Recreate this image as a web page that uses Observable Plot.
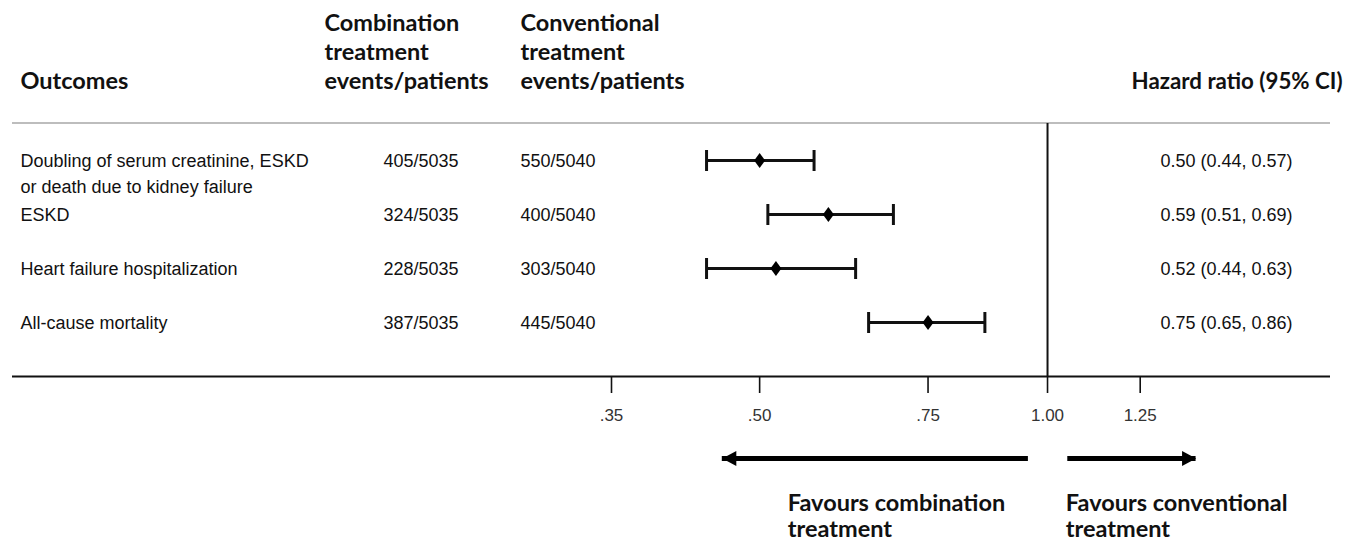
<!DOCTYPE html>
<html>
<head>
<meta charset="utf-8">
<script src="https://cdn.jsdelivr.net/npm/d3@7"></script>
<script src="https://cdn.jsdelivr.net/npm/@observablehq/plot@0.6"></script>
<style>
  html, body { margin: 0; padding: 0; background: #fff; }
</style>
</head>
<body>
<div id="chart"></div>
<script>
// ---------- data ----------
const outcomes = [
  "Doubling of serum creatinine, ESKD\nor death due to kidney failure",
  "ESKD",
  "Heart failure hospitalization",
  "All-cause mortality"
];
const combinationEvents = ["405/5035", "324/5035", "228/5035", "387/5035"];
const conventionalEvents = ["550/5040", "400/5040", "303/5040", "445/5040"];
const hazardRatio = [0.50, 0.59, 0.52, 0.75];
const ciLow = [0.44, 0.51, 0.44, 0.65];
const ciHigh = [0.57, 0.69, 0.63, 0.86];

const tickValues = [0.35, 0.50, 0.75, 1.00, 1.25];
const tickLabels = [".35", ".50", ".75", "1.00", "1.25"];

const headerLabels = ["Outcomes", "Combination\ntreatment\nevents/patients", "Conventional\ntreatment\nevents/patients"];
const hrHeader = "Hazard ratio (95% CI)";

const favourLabels = ["Favours combination\ntreatment", "Favours conventional\ntreatment"];
const arrowFrom = [0.955, 1.05];
const arrowTo = [0.457, 1.43];
const favourLabelAt = [0.535, 1.045];

// ---------- layout ----------
const W = 1353, H = 543;
const M = {top: 123, right: 23, bottom: 166, left: 12};
const rowRange = [159.5, 323];
const lastY = rowRange[1];
const headFont = "Lato, 'Open Sans', sans-serif";
const bodyFont = "'Liberation Sans', Arial, sans-serif";
const headSize = 23.5;
const bodySize = 18;

const rows = outcomes.map((o, i) => ({
  outcome: o,
  comb: combinationEvents[i],
  conv: conventionalEvents[i],
  hr: hazardRatio[i],
  lo: ciLow[i],
  hi: ciHigh[i],
  hrText: `${hazardRatio[i].toFixed(2)} (${ciLow[i].toFixed(2)}, ${ciHigh[i].toFixed(2)})`
}));

const favours = favourLabels.map((t, i) => ({text: t, from: arrowFrom[i], to: arrowTo[i], at: favourLabelAt[i]}));

// custom symbols
const capSymbol = {draw(ctx) { ctx.moveTo(0, -10.5); ctx.lineTo(0, 10.5); }};
const diamondSymbol = {draw(ctx) { ctx.moveTo(0, -7.5); ctx.lineTo(5.5, 0); ctx.lineTo(0, 7.5); ctx.lineTo(-5.5, 0); ctx.closePath(); }};
const headLeft = {draw(ctx) { ctx.moveTo(0, 0); ctx.lineTo(14, -7.5); ctx.lineTo(14, 7.5); ctx.closePath(); }};
const headRight = {draw(ctx) { ctx.moveTo(0, 0); ctx.lineTo(-14, -7.5); ctx.lineTo(-14, 7.5); ctx.closePath(); }};

const headerDx = [8, 312, 508];
const headerData = headerLabels.map((t, i) => ({text: t, dx: headerDx[i]}));
const headerBaseline = 88;

const arrowY = 459;
const favourBaseline = 511;
const favourLH = 27;

const chart = Plot.plot({
  width: W,
  height: H,
  marginTop: M.top,
  marginRight: M.right,
  marginBottom: M.bottom,
  marginLeft: M.left,
  style: {fontFamily: bodyFont, fontSize: bodySize + "px", color: "#111", background: "#fff"},
  x: {type: "log", domain: [0.35, 1.25], range: [611, 1139.7], axis: null},
  y: {type: "point", domain: outcomes, range: rowRange, padding: 0, axis: null},
  marks: [
    // header rule (grey) and axis line (black)
    Plot.ruleY([outcomes[0]], {dy: M.top - 1 - rowRange[0], stroke: "#bdbdbd", strokeWidth: 2.2}),
    Plot.ruleY([outcomes[outcomes.length - 1]], {dy: (H - M.bottom) - lastY, stroke: "#111", strokeWidth: 1.8}),
    // null line
    Plot.ruleX([1], {stroke: "#111", strokeWidth: 2}),
    // axis
    Plot.axisX(tickValues, {
      anchor: "bottom",
      tickFormat: d => tickLabels[tickValues.indexOf(d)],
      tickSize: 16,
      tickPadding: 15,
      fontSize: 17,
      fontFamily: bodyFont,
      stroke: "#111",
      strokeWidth: 1.6,
      fill: "#333",
      label: null
    }),
    // CI lines and caps
    Plot.ruleY(rows, {y: "outcome", x1: "lo", x2: "hi", stroke: "#111", strokeWidth: 3}),
    Plot.dot(rows, {x: "lo", y: "outcome", symbol: capSymbol, r: 5, fill: "none", stroke: "#111", strokeWidth: 3}),
    Plot.dot(rows, {x: "hi", y: "outcome", symbol: capSymbol, r: 5, fill: "none", stroke: "#111", strokeWidth: 3}),
    // point estimates
    Plot.dot(rows, {x: "hr", y: "outcome", symbol: diamondSymbol, r: 5, fill: "#000", stroke: "none"}),
    // row texts
    Plot.text(rows, {y: "outcome", text: "outcome", frameAnchor: "left", dx: 8, lineAnchor: "top",
      lineHeight: 26 / bodySize, dy: 6.5 - 0.71 * 26, fill: "#111"}),
    Plot.text(rows, {y: "outcome", text: "comb", frameAnchor: "left", dx: 383 - M.left, dy: 0.5, fill: "#111"}),
    Plot.text(rows, {y: "outcome", text: "conv", frameAnchor: "left", dx: 520 - M.left, dy: 0.5, fill: "#111"}),
    Plot.text(rows, {y: "outcome", text: "hrText", frameAnchor: "left", dx: 1160 - M.left, dy: 0.5, fill: "#111"}),
    // headers
    ...headerData.map(h => Plot.text([h], {text: "text", frameAnchor: "top-left", textAnchor: "start", lineAnchor: "bottom",
      dx: h.dx, dy: headerBaseline - M.top, lineHeight: 29 / headSize, fontFamily: headFont, fontWeight: "bold", fontSize: headSize, fill: "#111"})),
    Plot.text([hrHeader], {frameAnchor: "top-right", textAnchor: "end", lineAnchor: "bottom", dx: 1342 - (W - M.right), dy: headerBaseline - M.top,
      fontFamily: headFont, fontWeight: "bold", fontSize: 22.3, fill: "#111"}),
    // favour arrows
    Plot.ruleY(favours, {y: () => outcomes[outcomes.length - 1], x1: "from", x2: "to", dy: arrowY - lastY, stroke: "#000", strokeWidth: 5}),
    Plot.dot([favours[0]], {x: "to", y: () => outcomes[outcomes.length - 1], dy: arrowY - lastY, symbol: headLeft, r: 5, fill: "#000", stroke: "none"}),
    Plot.dot([favours[1]], {x: "to", y: () => outcomes[outcomes.length - 1], dy: arrowY - lastY, symbol: headRight, r: 5, fill: "#000", stroke: "none"}),
    Plot.text(favours, {x: "at", y: () => outcomes[outcomes.length - 1], text: "text", textAnchor: "start", lineAnchor: "top",
      lineHeight: favourLH / headSize, dy: favourBaseline - lastY - 0.71 * favourLH,
      fontFamily: headFont, fontWeight: "bold", fontSize: headSize, fill: "#111"})
  ]
});

document.getElementById("chart").appendChild(chart);
</script>
</body>
</html>
